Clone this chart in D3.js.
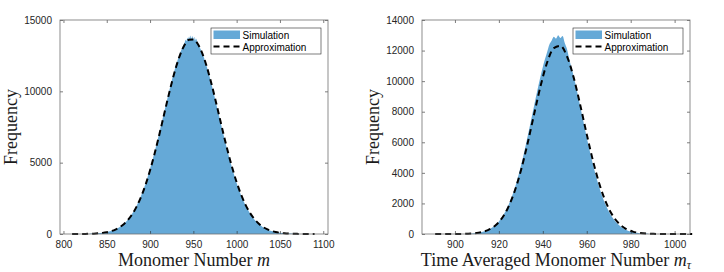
<!DOCTYPE html>
<html>
<head>
<meta charset="utf-8">
<script src="https://cdn.jsdelivr.net/npm/d3@7"></script>
<style>
body{margin:0;background:#fff;}
svg{display:block;}
.tick text{font-family:"Liberation Sans",Arial,sans-serif;font-size:10px;fill:#262626;}
.ttl{font-family:"Liberation Serif","Times New Roman",serif;font-size:18px;fill:#1a1a1a;}
.leg{font-family:"Liberation Sans",Arial,sans-serif;font-size:10px;fill:#000;}
</style>
</head>
<body>
<svg id="fig" width="724" height="272"></svg>
<script>
// left panel: monomer number m
const simXLeft = [830,835,840,845,850,855,860,865,870,875,880,885,890,895,900,905,910,915,920,925,930,935,938,940,941,942,943,944,945,946,947,948,949,950,951,952,953,955,958,960,965,970,975,980,985,990,995,1000,1005,1010,1015,1020,1025,1030,1035,1040,1045,1050,1055,1060,1065];
const simYLeft = [16,28,49,81,133,211,327,495,732,1056,1485,2042,2737,3579,4569,5693,6920,8210,9504,10739,11840,12739,13180,13420,13610,13520,13760,13650,13850,13700,13920,13690,13880,13640,13830,13560,13700,13380,13000,12739,11840,10739,9504,8210,6920,5693,4569,3579,2737,2042,1485,1056,732,495,327,211,133,81,49,28,16];
const apxXLeft = [810,815,820,825,830,835,840,845,850,855,860,865,870,875,880,885,890,895,900,905,910,915,920,925,930,935,940,945,950,955,960,965,970,975,980,985,990,995,1000,1005,1010,1015,1020,1025,1030,1035,1040,1045,1050,1055,1060,1065,1070,1075,1080,1085,1090];
const apxYLeft = [0,0,1,2,14,25,45,76,125,200,312,475,705,1020,1440,1985,2665,3490,4465,5575,6790,8070,9360,10590,11700,12610,13270,13620,13640,13330,12710,11830,10750,9530,8250,6960,5740,4620,3630,2780,2080,1520,1085,755,510,338,218,138,85,51,30,17,9,5,2,1,0];
const xTicksLeft = [800,850,900,950,1000,1050,1100];
const yTicksLeft = [0,5000,10000,15000];

// right panel: time averaged monomer number
const simXRight = [906,908,910,912,914,916,918,920,922,924,926,928,930,932,934,936,938,940,942,943,944,945,946,947,948,949,950,951,952,954,956,958,960,962,964,966,968,970,972,974,976,978,980,982,984,986,988];
const simYRight = [21,39,70,122,206,338,537,825,1230,1778,2488,3377,4443,5663,6997,8377,9721,10933,11917,12400,12650,12900,12780,13000,12820,12950,12500,12100,11459,10351,9060,7686,6320,5036,3889,2910,2112,1485,1011,668,427,265,159,93,52,29,15];
const apxXRight = [891,894,897,900,903,906,909,912,915,918,921,924,927,930,933,936,939,942,945,948,951,954,957,960,963,966,969,972,975,978,981,984,987,990,993,996,999,1002,1005,1008];
const apxYRight = [0,0,1,3,8,21,53,120,257,513,958,1671,2722,4141,5886,7816,9695,11236,12165,12303,11625,10262,8462,6518,4692,3154,1981,1162,637,326,156,70,29,11,4,1,0,0,0,0];
const xTicksRight = [900,920,940,960,980,1000];
const yTicksRight = [0,2000,4000,6000,8000,10000,12000,14000];

const legendLabels = ["Simulation","Approximation"];
const simColor = "#65a9d7";

const svg = d3.select("#fig");
svg.append("rect").attr("width",724).attr("height",272).attr("fill","#fff");

function drawPanel(p){
  const g = svg.append("g");
  const x = d3.scaleLinear().domain(p.xDomain).range([p.x0, p.x1]);
  const y = d3.scaleLinear().domain(p.yDomain).range([p.y1, p.y0]);

  // histogram (simulation)
  const sim = p.simX.map((v,i) => ({x:v, y:p.simY[i]}));
  g.append("path")
    .datum(sim)
    .attr("fill", simColor)
    .attr("d", d3.area().x(d => x(d.x)).y0(y(0)).y1(d => y(d.y)).curve(d3.curveMonotoneX));

  // approximation
  const apx = p.apxX.map((v,i) => ({x:v, y:p.apxY[i]}));
  g.append("path")
    .datum(apx)
    .attr("fill","none")
    .attr("stroke","#000")
    .attr("stroke-width",2)
    .attr("stroke-dasharray","6,4")
    .attr("d", d3.line().x(d => x(d.x)).y(d => y(d.y)).curve(d3.curveMonotoneX));

  // axes, ticks inside like matlab
  const fmt = d3.format("d");
  const ax = [
    {a: d3.axisBottom(x).tickValues(p.xTicks).tickSize(-3).tickPadding(7).tickFormat(fmt), t:`translate(0,${p.y1})`},
    {a: d3.axisTop(x).tickValues(p.xTicks).tickSize(-3).tickFormat(""), t:`translate(0,${p.y0})`},
    {a: d3.axisLeft(y).tickValues(p.yTicks).tickSize(-3).tickPadding(8).tickFormat(fmt), t:`translate(${p.x0},0)`},
    {a: d3.axisRight(y).tickValues(p.yTicks).tickSize(-3).tickFormat(""), t:`translate(${p.x1},0)`}
  ];
  ax.forEach(o => {
    const a = g.append("g").attr("transform", o.t).call(o.a);
    a.select(".domain").remove();
    a.selectAll(".tick line").attr("stroke","#262626").attr("stroke-width",0.6);
  });
  g.selectAll(".tick text").attr("fill","#262626");

  g.append("rect")
    .attr("x", p.x0).attr("y", p.y0)
    .attr("width", p.x1 - p.x0).attr("height", p.y1 - p.y0)
    .attr("fill","none").attr("stroke","#707070").attr("stroke-width",0.8);

  // axis titles
  g.append("text").attr("class","ttl")
    .attr("transform", `translate(${p.x0 - 43},${(p.y0 + p.y1)/2}) rotate(-90)`)
    .attr("text-anchor","middle")
    .text("Frequency");
  const xt = g.append("text").attr("class","ttl")
    .attr("x", (p.x0 + p.x1)/2).attr("y", 266)
    .attr("text-anchor","middle");
  xt.append("tspan").text(p.xLabel + " ");
  xt.append("tspan").attr("font-style","italic").text("m");
  if (p.sub) {
    xt.append("tspan").attr("font-style","italic").attr("font-size","12px").attr("dy",3).text(p.sub);
  }

  // legend
  const lx = p.x1 - 117, ly = p.y0 + 8;
  const lg = g.append("g");
  lg.append("rect").attr("x", lx).attr("y", ly).attr("width", 110).attr("height", 26)
    .attr("fill","#fff").attr("stroke","#262626").attr("stroke-width",0.6);
  lg.append("rect").attr("x", lx + 2.5).attr("y", ly + 2.5).attr("width", 26.5).attr("height", 8.5)
    .attr("fill", simColor);
  lg.append("line").attr("x1", lx + 2.5).attr("x2", lx + 29).attr("y1", ly + 18.5).attr("y2", ly + 18.5)
    .attr("stroke","#000").attr("stroke-width",2).attr("stroke-dasharray","6,4");
  lg.selectAll("text.leg").data(legendLabels).enter().append("text")
    .attr("class","leg")
    .attr("x", lx + 31.5)
    .attr("y", (d,i) => ly + 10.5 + i*12.5)
    .text(d => d);
}

drawPanel({
  x0: 60, x1: 328, y0: 20, y1: 234,
  xDomain: [796, 1105.5], yDomain: [0, 15000],
  xTicks: xTicksLeft, yTicks: yTicksLeft,
  simX: simXLeft, simY: simYLeft, apxX: apxXLeft, apxY: apxYLeft,
  xLabel: "Monomer Number", sub: null
});
drawPanel({
  x0: 422, x1: 690, y0: 20, y1: 234,
  xDomain: [885, 1007], yDomain: [0, 14000],
  xTicks: xTicksRight, yTicks: yTicksRight,
  simX: simXRight, simY: simYRight, apxX: apxXRight, apxY: apxYRight,
  xLabel: "Time Averaged Monomer Number", sub: "τ"
});
</script>
</body>
</html>
